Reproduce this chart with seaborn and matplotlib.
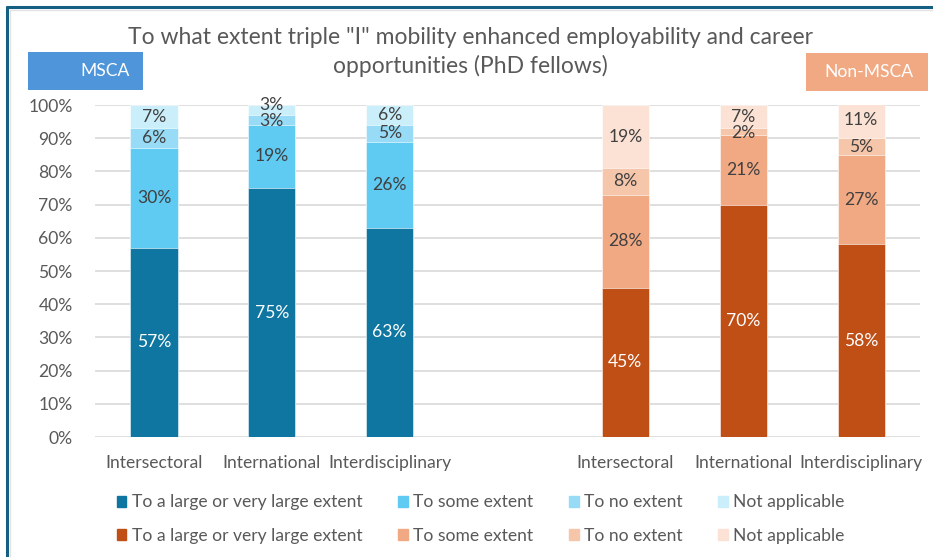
import matplotlib
matplotlib.use("Agg")
import matplotlib.pyplot as plt
import matplotlib.patches as mpatches
from matplotlib.lines import Line2D
import numpy as np
import pandas as pd
import seaborn as sns

# ---- data -------------------------------------------------------------
dimensions = ["Intersectoral", "International", "Interdisciplinary"]
groups = ["MSCA", "Non-MSCA"]
levels = ["To a large or very large extent", "To some extent",
          "To no extent", "Not applicable"]

msca_large = [57, 75, 63]
msca_some = [30, 19, 26]
msca_none = [6, 3, 5]
msca_na = [7, 3, 6]

non_large = [45, 70, 58]
non_some = [28, 21, 27]
non_none = [8, 2, 5]
non_na = [19, 7, 11]

title = 'To what extent triple "I" mobility enhanced employability and career\nopportunities (PhD fellows)'

# ---- styling ----------------------------------------------------------
blues = ["#0E76A0", "#5FCAF2", "#97DBF6", "#CBEEFB"]
oranges = ["#C04F15", "#F1A983", "#F6C6AB", "#FBE2D5"]
label_colors = ["white", "#404040", "#404040", "#404040"]
text_gray = "#595959"
fs = 12.6

sns.set_theme(style="white")
plt.rcParams["font.family"] = ["Lato", "DejaVu Sans"]

# ---- long-form table --------------------------------------------------
series = {
    "MSCA": [msca_large, msca_some, msca_none, msca_na],
    "Non-MSCA": [non_large, non_some, non_none, non_na],
}
rows = []
for g in groups:
    for i, d in enumerate(dimensions):
        for k, lev in enumerate(levels):
            rows.append({"slot": f"{g}|{d}", "group": g, "dimension": d,
                         "level": lev, "k": k, "value": series[g][k][i]})
df = pd.DataFrame(rows)
df["top"] = df.groupby("slot")["value"].cumsum()
df["bottom"] = df["top"] - df["value"]

order = [f"MSCA|{d}" for d in dimensions] + ["gap"] + \
        [f"Non-MSCA|{d}" for d in dimensions]

fig = plt.figure(figsize=(9.33, 5.57), dpi=100)
ax = fig.add_axes([95 / 933, 1 - 437 / 557, (920 - 95) / 933, (437 - 105) / 557])

# stacked bars: draw cumulative heights from the outermost layer inwards
for k in reversed(range(len(levels))):
    sub = df[df["k"] == k]
    sns.barplot(data=sub, x="slot", y="top", hue="group", order=order,
                hue_order=groups,
                palette={"MSCA": blues[k], "Non-MSCA": oranges[k]},
                saturation=1, dodge=False, width=0.4, legend=False, ax=ax,
                edgecolor="white", linewidth=0.4, zorder=2)

# segment labels; thin top segments get a small nudge so they stay legible
pos = {s: i for i, s in enumerate(order)}
for _, r in df.iterrows():
    y = (r["bottom"] + r["top"]) / 2
    if r["value"] <= 3:
        y += 1.6 if r["k"] == 3 else -0.4
    ax.text(pos[r["slot"]], y, f"{r['value']}%",
            ha="center", va="center", fontsize=fs,
            color=label_colors[r["k"]], zorder=3)

ax.set_ylim(0, 100)
ax.set_xlim(-0.5, 6.5)
ax.set_yticks(np.arange(0, 101, 10))
ax.set_yticklabels([f"{v}%" for v in range(0, 101, 10)])
ax.set_xticks(range(len(order)))
ax.set_xticklabels([s.split("|")[1] if "|" in s else "" for s in order])
ax.set_xlabel("")
ax.set_ylabel("")
ax.tick_params(axis="both", length=0, labelsize=fs, labelcolor=text_gray)
ax.tick_params(axis="x", pad=13)
ax.tick_params(axis="y", pad=16)
ax.yaxis.grid(True, color="#D9D9D9", linewidth=1.2, zorder=0)
ax.set_axisbelow(True)
for sp in ax.spines.values():
    sp.set_visible(False)

# legend: blue row above orange row
handles = []
for k, lev in enumerate(levels):
    handles.append(mpatches.Patch(color=blues[k], label=lev))
    handles.append(mpatches.Patch(color=oranges[k], label=lev))
fig.legend(handles=handles, ncol=4, loc="center left",
           bbox_to_anchor=(101 / 933, 1 - 519 / 557), frameon=False,
           fontsize=fs, labelcolor=text_gray, handlelength=0.55,
           handleheight=0.6, handletextpad=0.3, columnspacing=2.05,
           labelspacing=1.0)

# title
fig.text(470 / 933, 1 - 52 / 557, title, ha="center", va="center",
         fontsize=16.5, color=text_gray, linespacing=1.35)

# group tags
fig.patches.append(mpatches.Rectangle((28 / 933, 1 - 90 / 557), 115 / 933, 38 / 557,
                                      transform=fig.transFigure,
                                      facecolor="#4E95D9", edgecolor="none"))
fig.text(105 / 933, 1 - 71 / 557, "MSCA", ha="center", va="center",
         fontsize=fs, color="white")
fig.patches.append(mpatches.Rectangle((806 / 933, 1 - 91 / 557), 122 / 933, 38 / 557,
                                      transform=fig.transFigure,
                                      facecolor="#F1A983", edgecolor="none"))
fig.text(869 / 933, 1 - 72 / 557, "Non-MSCA", ha="center", va="center",
         fontsize=fs, color="white")

# frame lines along top and left edges
fig.lines.append(Line2D([7 / 933, 1], [1 - 7 / 557, 1 - 7 / 557],
                        transform=fig.transFigure, color="#156082", linewidth=2.2))
fig.lines.append(Line2D([7 / 933, 7 / 933], [0, 1 - 7 / 557],
                        transform=fig.transFigure, color="#156082", linewidth=2.2))
fig.lines.append(Line2D([10 / 933, 1], [1 - 10 / 557, 1 - 10 / 557],
                        transform=fig.transFigure, color="#E3E3E3", linewidth=1))
fig.lines.append(Line2D([10 / 933, 10 / 933], [0, 1 - 10 / 557],
                        transform=fig.transFigure, color="#E3E3E3", linewidth=1))

fig.savefig("out.png", dpi=100, facecolor="white")
